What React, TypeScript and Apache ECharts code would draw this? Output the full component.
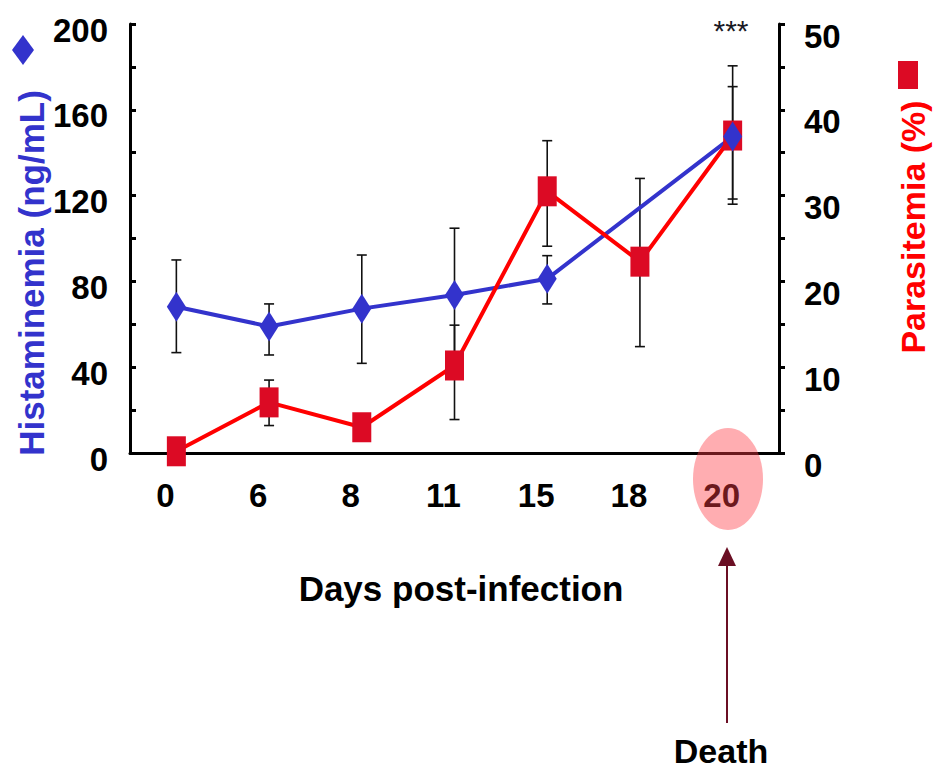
import React, { useEffect, useRef } from "react";
import * as echarts from "echarts";

// Days post-infection (category axis)
const days = ["0", "6", "8", "11", "15", "18", "20"];

// Histaminemia (ng/mL): mean with lower / upper error bounds; no sample on day 18
const histamine = [68.2, 59.0, 67.3, 73.7, 81.2, null, 147.5];
const histLow = [46.8, 45.7, 41.8, 42.6, 69.5, null, 116.0];
const histHigh = [90.0, 69.5, 92.3, 104.8, 92.0, null, 180.5];

// Parasitemia (%): mean with lower / upper error bounds
const parasitemia = [0.2, 5.9, 3.0, 10.2, 30.5, 22.3, 37.0];
const paraLow = [null, 3.2, null, 3.9, 24.1, 12.4, 29.6];
const paraHigh = [null, 8.5, null, 14.9, 36.4, 32.0, 42.7];

const BLUE = "#3333cc";
const RED_LINE = "#ff0000";
const RED_MARK = "#dc0a24";
const FONT = '"Liberation Sans", Arial, sans-serif';

function errorRows(low: (number | null)[], high: (number | null)[]) {
  const rows: number[][] = [];
  low.forEach((lo, i) => {
    const hi = high[i];
    if (lo != null && hi != null) rows.push([i, lo, hi]);
  });
  return rows;
}

function renderErrorBar(params: any, api: any) {
  const x = api.value(0);
  const lo = api.coord([x, api.value(1)]);
  const hi = api.coord([x, api.value(2)]);
  const cap = 5;
  const style = { stroke: "#111", lineWidth: 1.6 };
  return {
    type: "group",
    children: [
      { type: "line", shape: { x1: lo[0], y1: lo[1], x2: hi[0], y2: hi[1] }, style },
      { type: "line", shape: { x1: hi[0] - cap, y1: hi[1], x2: hi[0] + cap, y2: hi[1] }, style },
      { type: "line", shape: { x1: lo[0] - cap, y1: lo[1], x2: lo[0] + cap, y2: lo[1] }, style },
    ],
  };
}

export default function App() {
  const ref = useRef<HTMLDivElement>(null);

  useEffect(() => {
    document.body.style.margin = "0";
    if (!ref.current) return;
    const chart = echarts.init(ref.current, null, { renderer: "svg" });

    const axisText = { color: "#000", fontSize: 33, fontWeight: "bold" as const, fontFamily: FONT };

    chart.setOption({
      animation: false,
      grid: { left: 130, right: 154, top: 24, bottom: 319, containLabel: false },
      xAxis: {
        type: "category",
        data: days,
        boundaryGap: true,
        axisLine: { lineStyle: { color: "#000", width: 3 } },
        axisTick: { alignWithLabel: true, length: 10, lineStyle: { color: "#000", width: 3 } },
        axisLabel: { ...axisText, margin: 26, padding: [0, 22, 0, 0] },
        splitLine: { show: false },
      },
      yAxis: [
        {
          type: "value",
          min: 0,
          max: 200,
          interval: 20,
          position: "left",
          axisLine: { show: true, lineStyle: { color: "#000", width: 3 } },
          axisTick: { show: true, inside: true, length: 6, lineStyle: { color: "#000", width: 3 } },
          axisLabel: {
            ...axisText,
            margin: 22,
            verticalAlign: "top",
            lineHeight: 12,
            formatter: (v: number) => (v % 40 === 0 ? String(v) : ""),
          },
          splitLine: { show: false },
        },
        {
          type: "value",
          min: 0,
          max: 50,
          interval: 5,
          position: "right",
          axisLine: { show: true, lineStyle: { color: "#000", width: 3 } },
          axisTick: { show: true, inside: false, length: 6, lineStyle: { color: "#000", width: 3 } },
          axisLabel: {
            ...axisText,
            margin: 25,
            verticalAlign: "top",
            lineHeight: 24,
            formatter: (v: number) => (v % 10 === 0 ? String(v) : ""),
          },
          splitLine: { show: false },
        },
      ],
      series: [
        {
          type: "custom",
          name: "Histaminemia error",
          yAxisIndex: 0,
          z: 1,
          renderItem: renderErrorBar,
          encode: { x: 0, y: [1, 2] },
          data: errorRows(histLow, histHigh),
          silent: true,
        },
        {
          type: "custom",
          name: "Parasitemia error",
          yAxisIndex: 1,
          z: 1,
          renderItem: renderErrorBar,
          encode: { x: 0, y: [1, 2] },
          data: errorRows(paraLow, paraHigh),
          silent: true,
        },
        {
          type: "line",
          name: "Histaminemia",
          yAxisIndex: 0,
          z: 2,
          data: histamine,
          connectNulls: true,
          symbol: "none",
          lineStyle: { color: BLUE, width: 4 },
        },
        {
          type: "line",
          name: "Parasitemia",
          yAxisIndex: 1,
          z: 3,
          data: parasitemia,
          symbol: "rect",
          symbolSize: [19, 30],
          itemStyle: { color: RED_MARK, opacity: 1 },
          lineStyle: { color: RED_LINE, width: 4 },
        },
        {
          type: "scatter",
          name: "Histaminemia points",
          yAxisIndex: 0,
          z: 4,
          data: histamine,
          symbol: "diamond",
          symbolSize: [19, 30],
          itemStyle: { color: BLUE, opacity: 1 },
        },
      ],
      graphic: [
        {
          type: "text",
          x: 31,
          y: 273,
          rotation: Math.PI / 2,
          style: {
            text: "Histaminemia (ng/mL)",
            fill: BLUE,
            font: `bold 35px ${FONT}`,
            align: "center",
            verticalAlign: "middle",
          },
        },
        {
          type: "polygon",
          shape: { points: [[23, 35], [34, 50], [23, 65], [12, 50]] },
          style: { fill: BLUE },
        },
        {
          type: "text",
          x: 913,
          y: 227,
          rotation: Math.PI / 2,
          style: {
            text: "Parasitemia (%)",
            fill: RED_LINE,
            font: `bold 34px ${FONT}`,
            align: "center",
            verticalAlign: "middle",
          },
        },
        {
          type: "rect",
          shape: { x: 898, y: 61, width: 20, height: 28 },
          style: { fill: RED_MARK },
        },
        {
          type: "text",
          x: 731,
          y: 30,
          style: {
            text: "***",
            fill: "#1a1a24",
            font: `30px ${FONT}`,
            align: "center",
            verticalAlign: "middle",
          },
        },
        {
          type: "text",
          x: 461,
          y: 588,
          style: {
            text: "Days post-infection",
            fill: "#000",
            font: `bold 35px ${FONT}`,
            align: "center",
            verticalAlign: "middle",
          },
        },
        {
          type: "ellipse",
          z: 100,
          shape: { cx: 728, cy: 479, rx: 35, ry: 51 },
          style: { fill: "rgba(255,60,70,0.42)" },
        },
        {
          type: "line",
          shape: { x1: 727, y1: 723, x2: 727, y2: 562 },
          style: { stroke: "#6b0f24", lineWidth: 2 },
        },
        {
          type: "polygon",
          shape: { points: [[727, 547], [736, 566], [718, 566]] },
          style: { fill: "#6b0f24" },
        },
        {
          type: "text",
          x: 721,
          y: 751,
          style: {
            text: "Death",
            fill: "#000",
            font: `bold 34px ${FONT}`,
            align: "center",
            verticalAlign: "middle",
          },
        },
      ],
    });

    return () => chart.dispose();
  }, []);

  return <div ref={ref} style={{ width: 933, height: 772 }} />;
}
